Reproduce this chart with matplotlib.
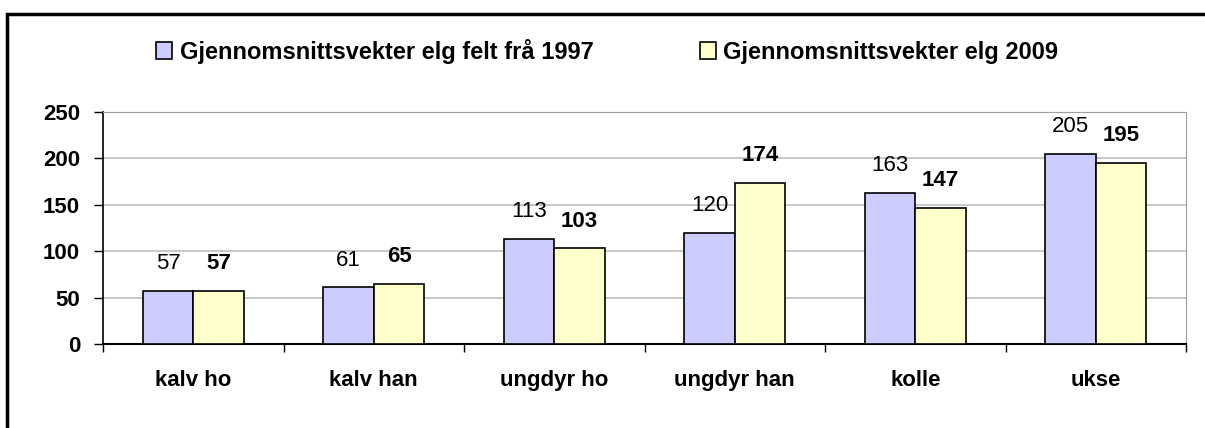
import numpy as np
import matplotlib.pyplot as plt
from matplotlib.patches import Rectangle

kategorier = ['kalv ho', 'kalv han', 'ungdyr ho', 'ungdyr han', 'kolle', 'ukse']
vekt_1997 = [57, 61, 113, 120, 163, 205]
vekt_2009 = [57, 65, 103, 174, 147, 195]
serie_namn = ['Gjennomsnittsvekter elg felt frå 1997', 'Gjennomsnittsvekter elg 2009']

plt.rcParams['font.family'] = ['Liberation Sans', 'DejaVu Sans']

W, H = 1205, 428
fig = plt.figure(figsize=(W / 100, H / 100), dpi=100)

# ytre ramme (berre venstre og topp synleg)
fig.patches.append(Rectangle((7 / W, -0.1), 1.2, (H - 14) / H + 0.1, transform=fig.transFigure,
                             fill=False, edgecolor='black', linewidth=2.5, zorder=0))

ax = fig.add_axes([103 / W, (H - 344) / H, (1186 - 103) / W, (344 - 112) / H])

x = np.arange(len(kategorier))
b = 0.28
s1 = ax.bar(x + 0.5 - b / 2, vekt_1997, b, color='#CCCCFF', edgecolor='black', linewidth=1.2,
            label=serie_namn[0], zorder=3)
s2 = ax.bar(x + 0.5 + b / 2, vekt_2009, b, color='#FFFFCC', edgecolor='black', linewidth=1.2,
            label=serie_namn[1], zorder=3)

for r, v in zip(s1, vekt_1997):
    ax.annotate(str(v), (r.get_x() + r.get_width() / 2, v), xytext=(0, 12), textcoords='offset points',
                ha='center', va='bottom', fontsize=16)
for r, v in zip(s2, vekt_2009):
    ax.annotate(str(v), (r.get_x() + r.get_width() / 2, v), xytext=(0, 12), textcoords='offset points',
                ha='center', va='bottom', fontsize=16, fontweight='bold')

ax.set_xlim(0, len(kategorier))
ax.set_ylim(0, 250)
ax.set_yticks(range(0, 251, 50))
ax.set_xticks(np.arange(len(kategorier) + 1))
ax.set_xticklabels([])
ax.set_xticks(x + 0.5, minor=True)
ax.set_xticklabels(kategorier, minor=True, fontsize=16, fontweight='bold')
ax.tick_params(axis='x', which='minor', length=0, pad=19)
ax.tick_params(axis='x', which='major', length=6, direction='out', width=1)
ax.tick_params(axis='y', length=6.5, direction='out', width=1, labelsize=16, pad=10)
for t in ax.get_yticklabels():
    t.set_fontweight('bold')

ax.yaxis.grid(True, color='#BFBFBF', linewidth=1.2, zorder=0)
ax.set_axisbelow(True)
ax.spines['left'].set_linewidth(1.2)
ax.spines['bottom'].set_linewidth(1.5)
ax.spines['top'].set_color('#A0A0A0')
ax.spines['right'].set_color('#A0A0A0')

fig.legend(handles=[s1, s2], labels=serie_namn, loc='center', bbox_to_anchor=(607 / W, (H - 51) / H),
           ncol=2, frameon=False, prop={'weight': 'bold', 'size': 17}, handlelength=0.7,
           handleheight=0.7, handletextpad=0.3, columnspacing=4.5)

fig.savefig('out.png', dpi=100)
